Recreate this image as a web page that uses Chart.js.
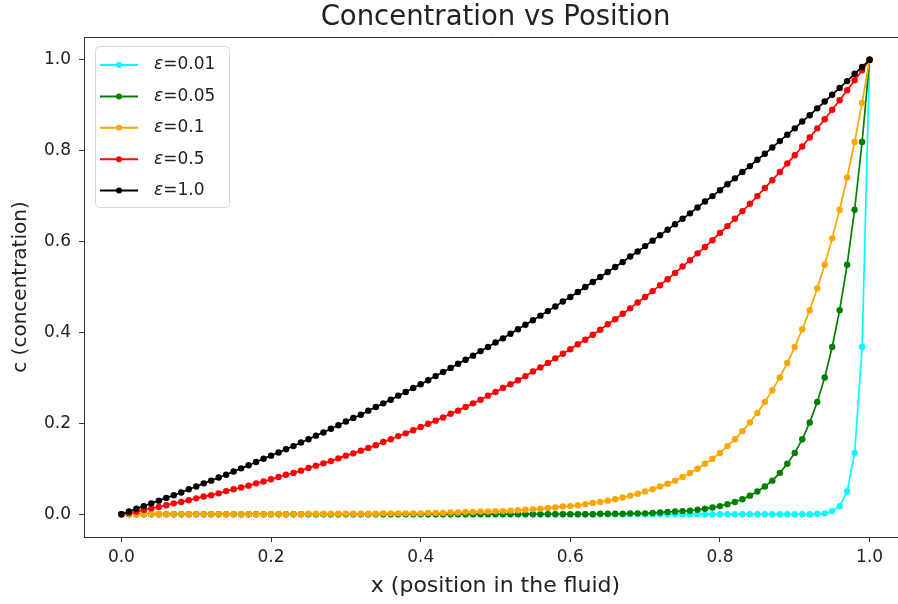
<!DOCTYPE html>
<html>
<head>
<meta charset="utf-8">
<script src="https://cdn.jsdelivr.net/npm/chart.js@4.4.1/dist/chart.umd.min.js"></script>
<style>
  html, body { margin: 0; padding: 0; background: #fff; overflow: hidden; }
  #wrap { position: absolute; left: 0; top: 0; width: 898px; height: 604px; overflow: hidden; }
  #chart { display: block; }
</style>
</head>
<body>
<div id="wrap"><canvas id="chart" width="912" height="604"></canvas></div>
<script>
// positions in the fluid
const xs = [
  0, 0.01, 0.02, 0.03, 0.04, 0.05, 0.06, 0.07, 0.08, 0.09,
  0.1, 0.11, 0.12, 0.13, 0.14, 0.15, 0.16, 0.17, 0.18, 0.19,
  0.2, 0.21, 0.22, 0.23, 0.24, 0.25, 0.26, 0.27, 0.28, 0.29,
  0.3, 0.31, 0.32, 0.33, 0.34, 0.35, 0.36, 0.37, 0.38, 0.39,
  0.4, 0.41, 0.42, 0.43, 0.44, 0.45, 0.46, 0.47, 0.48, 0.49,
  0.5, 0.51, 0.52, 0.53, 0.54, 0.55, 0.56, 0.57, 0.58, 0.59,
  0.6, 0.61, 0.62, 0.63, 0.64, 0.65, 0.66, 0.67, 0.68, 0.69,
  0.7, 0.71, 0.72, 0.73, 0.74, 0.75, 0.76, 0.77, 0.78, 0.79,
  0.8, 0.81, 0.82, 0.83, 0.84, 0.85, 0.86, 0.87, 0.88, 0.89,
  0.9, 0.91, 0.92, 0.93, 0.94, 0.95, 0.96, 0.97, 0.98, 0.99,
  1
];

const eps001 = [
  0, 0, 0, 0, 0, 0, 0, 0, 0, 0,
  0, 0, 0, 0, 0, 0, 0, 0, 0, 0,
  0, 0, 0, 0, 0, 0, 0, 0, 0, 0,
  0, 0, 0, 0, 0, 0, 0, 0, 0, 0,
  0, 0, 0, 0, 0, 0, 0, 0, 0, 0,
  0, 0, 0, 0, 0, 0, 0, 0, 0, 0,
  0, 0, 0, 0, 0, 0, 0, 0, 0, 0,
  0, 0, 0, 0, 0, 0, 0, 0, 0, 0,
  0, 0, 0, 0, 0, 0, 0, 0, 0, 0,
  0, 0, 0, 0.001, 0.002, 0.007, 0.018, 0.050, 0.135, 0.368,
  1
];

const eps005 = [
  0, 0, 0, 0, 0, 0, 0, 0, 0, 0,
  0, 0, 0, 0, 0, 0, 0, 0, 0, 0,
  0, 0, 0, 0, 0, 0, 0, 0, 0, 0,
  0, 0, 0, 0, 0, 0, 0, 0, 0, 0,
  0, 0, 0, 0, 0, 0, 0, 0, 0, 0,
  0, 0, 0, 0, 0, 0, 0, 0, 0, 0,
  0, 0, 0, 0, 0.001, 0.001, 0.001, 0.001, 0.002, 0.002,
  0.002, 0.003, 0.004, 0.005, 0.006, 0.007, 0.008, 0.010, 0.012, 0.015,
  0.018, 0.022, 0.027, 0.033, 0.041, 0.050, 0.061, 0.074, 0.091, 0.111,
  0.135, 0.165, 0.202, 0.247, 0.301, 0.368, 0.449, 0.549, 0.670, 0.819,
  1
];

const eps01 = [
  0, 0, 0, 0, 0, 0, 0, 0, 0, 0,
  0, 0, 0, 0, 0, 0, 0, 0, 0, 0,
  0, 0, 0, 0, 0, 0.001, 0.001, 0.001, 0.001, 0.001,
  0.001, 0.001, 0.001, 0.001, 0.001, 0.002, 0.002, 0.002, 0.002, 0.002,
  0.002, 0.003, 0.003, 0.003, 0.004, 0.004, 0.005, 0.005, 0.006, 0.006,
  0.007, 0.007, 0.008, 0.009, 0.010, 0.011, 0.012, 0.014, 0.015, 0.017,
  0.018, 0.020, 0.022, 0.025, 0.027, 0.030, 0.033, 0.037, 0.041, 0.045,
  0.050, 0.055, 0.061, 0.067, 0.074, 0.082, 0.091, 0.100, 0.111, 0.122,
  0.135, 0.150, 0.165, 0.183, 0.202, 0.223, 0.247, 0.273, 0.301, 0.333,
  0.368, 0.407, 0.449, 0.497, 0.549, 0.607, 0.670, 0.741, 0.819, 0.905,
  1
];

const eps05 = [
  0, 0.003, 0.006, 0.010, 0.013, 0.016, 0.020, 0.024, 0.027, 0.031,
  0.035, 0.039, 0.042, 0.046, 0.051, 0.055, 0.059, 0.063, 0.068, 0.072,
  0.077, 0.082, 0.087, 0.091, 0.096, 0.102, 0.107, 0.112, 0.117, 0.123,
  0.129, 0.134, 0.140, 0.146, 0.152, 0.159, 0.165, 0.172, 0.178, 0.185,
  0.192, 0.199, 0.206, 0.213, 0.221, 0.228, 0.236, 0.244, 0.252, 0.261,
  0.269, 0.278, 0.286, 0.295, 0.304, 0.314, 0.323, 0.333, 0.343, 0.353,
  0.363, 0.374, 0.384, 0.395, 0.406, 0.418, 0.429, 0.441, 0.453, 0.466,
  0.478, 0.491, 0.504, 0.517, 0.531, 0.545, 0.559, 0.574, 0.588, 0.603,
  0.619, 0.634, 0.650, 0.667, 0.683, 0.700, 0.718, 0.735, 0.753, 0.772,
  0.790, 0.809, 0.829, 0.849, 0.869, 0.890, 0.911, 0.933, 0.955, 0.977,
  1
];

const eps1 = [
  0, 0.006, 0.012, 0.018, 0.024, 0.030, 0.036, 0.042, 0.048, 0.055,
  0.061, 0.068, 0.074, 0.081, 0.087, 0.094, 0.101, 0.108, 0.115, 0.122,
  0.129, 0.136, 0.143, 0.150, 0.158, 0.165, 0.173, 0.180, 0.188, 0.196,
  0.204, 0.212, 0.219, 0.228, 0.236, 0.244, 0.252, 0.261, 0.269, 0.278,
  0.286, 0.295, 0.304, 0.313, 0.322, 0.331, 0.340, 0.349, 0.359, 0.368,
  0.378, 0.387, 0.397, 0.407, 0.417, 0.427, 0.437, 0.447, 0.457, 0.468,
  0.478, 0.489, 0.500, 0.511, 0.522, 0.533, 0.544, 0.555, 0.567, 0.578,
  0.590, 0.602, 0.614, 0.626, 0.638, 0.650, 0.662, 0.675, 0.688, 0.700,
  0.713, 0.726, 0.739, 0.753, 0.766, 0.780, 0.793, 0.807, 0.821, 0.835,
  0.849, 0.864, 0.878, 0.893, 0.908, 0.923, 0.938, 0.953, 0.969, 0.984,
  1
];

const epsLabels = ['0.01', '0.05', '0.1', '0.5', '1.0'];
const seriesValues = [eps001, eps005, eps01, eps05, eps1];
const seriesColors = ['#00ffff', '#008000', '#ffa500', '#ff0000', '#000000'];

const xTicks = [0, 0.2, 0.4, 0.6, 0.8, 1.0];
const yTicks = [0, 0.2, 0.4, 0.6, 0.8, 1.0];

const FONT = "'DejaVu Sans', sans-serif";
const TEXT = '#222';
const LINE = '#333';

const datasets = seriesValues.map((vals, i) => ({
  label: epsLabels[i],
  data: vals.map((v, j) => ({ x: xs[j], y: v })),
  borderColor: seriesColors[i],
  backgroundColor: seriesColors[i],
  borderWidth: 1.7,
  pointRadius: 3.2,
  pointBorderWidth: 0,
  pointHoverRadius: 3.2,
  tension: 0,
  // later series sit on top, like matplotlib
  order: seriesValues.length - i,
}));

// top/right spines and the title centred on the axes
const framePlugin = {
  id: 'frame',
  afterDraw(chart) {
    const { ctx, chartArea: a } = chart;
    ctx.save();
    ctx.strokeStyle = LINE;
    ctx.lineWidth = 1;
    ctx.beginPath();
    ctx.moveTo(a.left, a.top + 0.5);
    ctx.lineTo(a.right - 0.5, a.top + 0.5);
    ctx.lineTo(a.right - 0.5, a.bottom);
    ctx.stroke();

    ctx.fillStyle = TEXT;
    ctx.font = '27.5px ' + FONT;
    ctx.textAlign = 'center';
    ctx.textBaseline = 'middle';
    ctx.fillText('Concentration vs Position', (a.left + a.right) / 2, 18);
    ctx.restore();
  },
};

// matplotlib style legend box in the upper left
const legendPlugin = {
  id: 'mplLegend',
  afterDraw(chart) {
    const { ctx, chartArea: a } = chart;
    const bx = a.left + 11;
    const by = a.top + 9;
    const bw = 134;
    const bh = 161;
    const rowGap = 31.4;

    ctx.save();
    ctx.beginPath();
    ctx.roundRect(bx + 0.5, by + 0.5, bw, bh, 4);
    ctx.fillStyle = 'rgba(255,255,255,0.8)';
    ctx.fill();
    ctx.strokeStyle = '#d6d6d6';
    ctx.lineWidth = 1;
    ctx.stroke();

    chart.data.datasets.forEach((ds, i) => {
      const y = by + 19 + i * rowGap;
      ctx.strokeStyle = ds.borderColor;
      ctx.lineWidth = 2;
      ctx.beginPath();
      ctx.moveTo(bx + 5, y);
      ctx.lineTo(bx + 43, y);
      ctx.stroke();
      ctx.fillStyle = ds.borderColor;
      ctx.beginPath();
      ctx.arc(bx + 24, y, 3, 0, Math.PI * 2);
      ctx.fill();

      ctx.fillStyle = TEXT;
      ctx.textBaseline = 'middle';
      ctx.textAlign = 'left';
      let tx = bx + 59;
      ctx.font = 'italic 17px ' + FONT;
      ctx.fillText('ε', tx, y);
      tx += ctx.measureText('ε').width;
      ctx.font = '17px ' + FONT;
      ctx.fillText('=' + ds.label, tx, y);
    });
    ctx.restore();
  },
};

new Chart(document.getElementById('chart'), {
  type: 'line',
  data: { datasets },
  plugins: [framePlugin, legendPlugin],
  options: {
    responsive: false,
    animation: false,
    layout: { padding: { top: 37, right: 5, bottom: 0, left: 0 } },
    plugins: {
      legend: { display: false },
      tooltip: { enabled: false },
      title: { display: false },
    },
    scales: {
      x: {
        type: 'linear',
        min: -0.05,
        max: 1.05,
        afterBuildTicks: (s) => { s.ticks = xTicks.map((v) => ({ value: v })); },
        afterFit: (s) => { s.height = 67; },
        ticks: {
          color: TEXT,
          padding: 5,
          font: { family: FONT, size: 17 },
          callback: (v) => Number(v).toFixed(1),
        },
        grid: { drawOnChartArea: false, drawTicks: true, tickLength: 5, color: LINE },
        border: { display: true, color: LINE, width: 1 },
        title: {
          display: true,
          text: 'x (position in the fluid)',
          color: TEXT,
          font: { family: FONT, size: 22, lineHeight: 1.2 },
          padding: { top: 0, bottom: 5 },
        },
      },
      y: {
        type: 'linear',
        min: -0.05,
        max: 1.05,
        afterBuildTicks: (s) => { s.ticks = yTicks.map((v) => ({ value: v })); },
        afterFit: (s) => { s.width = 84; },
        ticks: {
          color: TEXT,
          padding: 8,
          font: { family: FONT, size: 17 },
          callback: (v) => Number(v).toFixed(1),
        },
        grid: { drawOnChartArea: false, drawTicks: true, tickLength: 5, color: LINE },
        border: { display: true, color: LINE, width: 1 },
        title: {
          display: true,
          text: 'c (concentration)',
          color: TEXT,
          font: { family: FONT, size: 20, lineHeight: 1.2 },
          padding: { top: 9, bottom: 0 },
        },
      },
    },
  },
});
</script>
</body>
</html>
